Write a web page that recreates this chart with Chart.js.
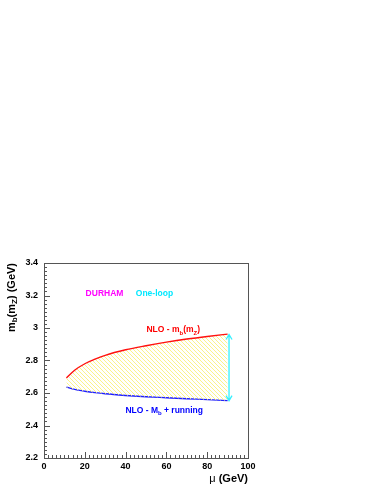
<!DOCTYPE html>
<html>
<head>
<meta charset="utf-8">
<script src="https://cdn.jsdelivr.net/npm/chart.js@4.4.1/dist/chart.umd.min.js"></script>
<style>
    html, body { margin: 0; padding: 0; background: #fff; }
    canvas { display: block; }
</style>
</head>
<body>
<canvas id="mbChart" width="382" height="494"></canvas>
<script>
    // renormalisation scale mu (GeV)
    var muValues = [11, 15, 20, 25, 30, 40, 50, 60, 70, 80, 90];
    // NLO - m_b(m_Z)  (upper edge of the band)
    var nloMbMz = [2.693, 2.740, 2.780, 2.808, 2.832, 2.866, 2.891, 2.913, 2.932, 2.948, 2.962];
    // NLO - M_b + running  (lower edge of the band)
    var nloMbRunning = [2.636, 2.622, 2.611, 2.602, 2.595, 2.585, 2.577, 2.571, 2.565, 2.559, 2.553];
    // one-loop spread, drawn as a double arrow
    var arrowMu = [90.7, 90.7];
    var arrowMb = [2.553, 2.960];

    var xTickLabels = ['0', '20', '40', '60', '80', '100'];
    var yTickLabels = ['2.2', '2.4', '2.6', '2.8', '3', '3.2', '3.4'];

    var FONT = '"Liberation Sans", Arial, Helvetica, sans-serif';

    function toPoints(xs, ys) {
        var pts = [];
        for (var i = 0; i < xs.length; i++) {
            pts.push({x: xs[i], y: ys[i]});
        }
        return pts;
    }

    function makeHatch() {
        var c = document.createElement('canvas');
        c.width = 4;
        c.height = 4;
        var g = c.getContext('2d');
        g.strokeStyle = '#fbf27a';
        g.lineWidth = 0.9;
        g.beginPath();
        for (var k = -1; k <= 1; k++) {
            g.moveTo(0, k * 4);
            g.lineTo(4, k * 4 + 4);
        }
        g.stroke();
        return g.createPattern(c, 'repeat');
    }

    // text labels: [text, isSubscript]
    var notes = [
        {x: 20.4, y: 3.194, color: '#ff00ff', parts: [['DURHAM', 0]]},
        {x: 45.0, y: 3.194, color: '#00e8ff', parts: [['One-loop', 0]]},
        {x: 50.2, y: 2.975, color: '#ff0000', parts: [['NLO - m', 0], ['b', 1], ['(m', 0], ['Z', 1], [')', 0]]},
        {x: 39.9, y: 2.478, color: '#0000ff', parts: [['NLO - M', 0], ['b', 1], [' + running', 0]]}
    ];

    function drawParts(ctx, parts, x, y, size, subSize) {
        for (var i = 0; i < parts.length; i++) {
            var sub = parts[i][1];
            ctx.font = 'bold ' + (sub ? subSize : size) + 'px ' + FONT;
            ctx.fillText(parts[i][0], x, y + (sub ? 2.5 : 0));
            x += ctx.measureText(parts[i][0]).width;
        }
        return x;
    }

    function partsWidth(ctx, parts, size, subSize) {
        var w = 0;
        for (var i = 0; i < parts.length; i++) {
            ctx.font = 'bold ' + (parts[i][1] ? subSize : size) + 'px ' + FONT;
            w += ctx.measureText(parts[i][0]).width;
        }
        return w;
    }

    var framePlugin = {
        id: 'framePlugin',
        afterDatasetsDraw: function (chart) {
            var ctx = chart.ctx;
            var a = chart.chartArea;
            var xs = chart.scales.x;
            var ys = chart.scales.y;
            ctx.save();

            // frame
            ctx.strokeStyle = '#555';
            ctx.lineWidth = 1;
            ctx.strokeRect(Math.round(a.left) + 0.5, Math.round(a.top) + 0.5,
                Math.round(a.right - a.left), Math.round(a.bottom - a.top));

            // ticks, inside the frame, bottom and left only
            ctx.beginPath();
            for (var i = 0; i <= 50; i++) {
                var px = Math.round(xs.getPixelForValue(i * 2)) + 0.5;
                var len = (i % 10 === 0) ? 6 : 3;
                ctx.moveTo(px, a.bottom);
                ctx.lineTo(px, a.bottom - len);
            }
            for (var j = 0; j <= 48; j++) {
                var py = Math.round(ys.getPixelForValue(2.2 + j * 0.025)) + 0.5;
                var ylen = (j % 8 === 0) ? 6 : 3;
                ctx.moveTo(a.left, py);
                ctx.lineTo(a.left + ylen, py);
            }
            ctx.stroke();

            // double arrow
            var ax = xs.getPixelForValue(arrowMu[0]);
            var ay0 = ys.getPixelForValue(arrowMb[0]);
            var ay1 = ys.getPixelForValue(arrowMb[1]);
            ctx.strokeStyle = '#33f0ff';
            ctx.lineWidth = 1.3;
            ctx.beginPath();
            ctx.moveTo(ax, ay0);
            ctx.lineTo(ax, ay1);
            ctx.moveTo(ax - 3, ay1 + 5);
            ctx.lineTo(ax, ay1);
            ctx.lineTo(ax + 3, ay1 + 5);
            ctx.moveTo(ax - 3, ay0 - 5);
            ctx.lineTo(ax, ay0);
            ctx.lineTo(ax + 3, ay0 - 5);
            ctx.stroke();

            // labels
            ctx.textBaseline = 'alphabetic';
            ctx.textAlign = 'left';
            notes.forEach(function (n) {
                ctx.fillStyle = n.color;
                drawParts(ctx, n.parts, xs.getPixelForValue(n.x), ys.getPixelForValue(n.y), 8.5, 6);
            });

            // y axis title, rotated, ending at the top of the frame
            var yTitle = [['m', 0], ['b', 1], ['(m', 0], ['Z', 1], [') (GeV)', 0]];
            ctx.fillStyle = '#000';
            ctx.translate(14.5, a.top);
            ctx.rotate(-Math.PI / 2);
            var w = partsWidth(ctx, yTitle, 11, 8);
            drawParts(ctx, yTitle, -w, 0, 11, 8);
            ctx.setTransform(1, 0, 0, 1, 0, 0);

            // x axis title, right aligned
            ctx.font = 'bold 11px ' + FONT;
            var gev = ' (GeV)';
            var gw = ctx.measureText(gev).width;
            ctx.fillText(gev, a.right - gw, 482);
            ctx.font = '11px ' + FONT;
            var mw = ctx.measureText('\u03bc').width;
            ctx.fillText('\u03bc', a.right - gw - mw, 482);

            ctx.restore();
        }
    };

    var ctx = document.getElementById('mbChart').getContext('2d');
    var mbChart = new Chart(ctx, {
        type: 'line',
        data: {
            datasets: [{
                label: 'NLO - m_b(m_Z)',
                data: toPoints(muValues, nloMbMz),
                borderColor: '#ff1010',
                borderWidth: 1.4,
                pointRadius: 0,
                cubicInterpolationMode: 'monotone',
                fill: '+1',
                backgroundColor: makeHatch()
            }, {
                label: 'NLO - M_b + running',
                data: toPoints(muValues, nloMbRunning),
                borderColor: '#2020ff',
                borderWidth: 1.4,
                pointRadius: 0,
                cubicInterpolationMode: 'monotone',
                fill: false
            }]
        },
        options: {
            responsive: false,
            animation: false,
            devicePixelRatio: 1,
            layout: {
                padding: {left: 0, top: 263, right: 134, bottom: 0}
            },
            plugins: {
                legend: {display: false},
                tooltip: {enabled: false}
            },
            scales: {
                x: {
                    type: 'linear',
                    min: 0,
                    max: 100,
                    grid: {display: false, drawTicks: false},
                    border: {display: false},
                    ticks: {
                        stepSize: 20,
                        padding: 3,
                        maxRotation: 0,
                        color: '#000',
                        font: {family: FONT, size: 9, weight: 'bold'},
                        callback: function (v, i) { return xTickLabels[i]; }
                    },
                    afterFit: function (s) { s.height = 36; }
                },
                y: {
                    type: 'linear',
                    min: 2.2,
                    max: 3.4,
                    grid: {display: false, drawTicks: false},
                    border: {display: false},
                    ticks: {
                        stepSize: 0.2,
                        padding: 6,
                        color: '#000',
                        font: {family: FONT, size: 9, weight: 'bold'},
                        callback: function (v, i) { return yTickLabels[i]; }
                    },
                    afterFit: function (s) { s.width = 44; }
                }
            }
        },
        plugins: [framePlugin]
    });
</script>
</body>
</html>
